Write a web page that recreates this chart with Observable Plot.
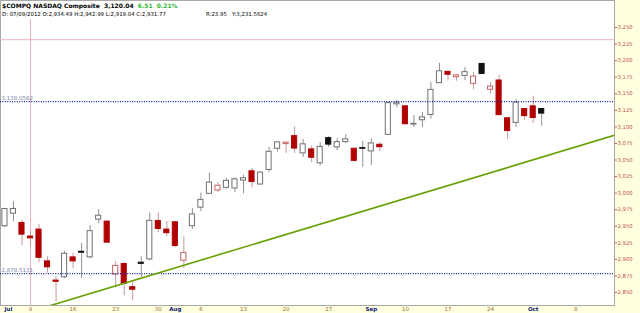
<!DOCTYPE html>
<html><head><meta charset="utf-8">
<script src="https://cdn.jsdelivr.net/npm/d3@7"></script>
<script src="https://cdn.jsdelivr.net/npm/@observablehq/plot@0.6"></script>
<style>
body{margin:0;background:#ffffe0;}
#wrap{position:relative;width:640px;height:313px;font-family:"DejaVu Sans",Verdana,sans-serif;}
.hdr{position:absolute;white-space:nowrap;line-height:1;color:#000;}
svg{display:block;}
</style></head><body><div id="wrap"></div>
<script>
const symbol = "$COMPQ";
const indexName = "NASDAQ Composite";
const lastClose = 3120.04, change = 6.51, changePct = 0.21;

const dates = [
"2012-07-02","2012-07-03","2012-07-05","2012-07-06","2012-07-09","2012-07-10","2012-07-11","2012-07-12","2012-07-13",
"2012-07-16","2012-07-17","2012-07-18","2012-07-19","2012-07-20","2012-07-23","2012-07-24","2012-07-25","2012-07-26","2012-07-27",
"2012-07-30","2012-07-31","2012-08-01","2012-08-02","2012-08-03","2012-08-06","2012-08-07","2012-08-08","2012-08-09","2012-08-10",
"2012-08-13","2012-08-14","2012-08-15","2012-08-16","2012-08-17","2012-08-20","2012-08-21","2012-08-22","2012-08-23","2012-08-24",
"2012-08-27","2012-08-28","2012-08-29","2012-08-30","2012-08-31","2012-09-04","2012-09-05","2012-09-06","2012-09-07",
"2012-09-10","2012-09-11","2012-09-12","2012-09-13","2012-09-14","2012-09-17","2012-09-18","2012-09-19","2012-09-20","2012-09-21",
"2012-09-24","2012-09-25","2012-09-26","2012-09-27","2012-09-28","2012-10-01","2012-10-02"];
const opens = [
2938,2950,2969,2955,2934.49,2945,2897,2868,2873,
2903,2911.5,2903,2960,2957,2877,2893,2858,2895,2900,
2958,2945,2956,2898,2950,2978,2999,3004,3008,3007,
3019,3033,3013,3035,3067,3074,3086,3060,3066,3045,
3083,3069,3077,3067,3068,3063,3073,3088,3134,
3131,3103.5,3110,3118,3166,3183,3175,3177,3165,3195,
3156,3170,3113,3106,3127,3131,3127];
const highs = [
2953,2977,2987,2959,2942.99,2953,2904,2874,2912,
2909,2924,2951,2975,2958,2897,2895,2868,2904,2970,
2970,2957,2957,2934,2977,3000,3030,3016,3022,3023,
3027,3037,3032,3069,3077,3077,3100,3081,3071,3076,
3085,3082,3088,3067,3078,3082,3076,3137,3140,
3132,3117,3122,3167,3196,3184,3179,3190,3182,3196,
3167,3178,3113,3141,3127,3146,3128];
const lows = [
2926,2948,2957,2921,2919.04,2895,2879,2836,2871,
2886,2871,2901,2954,2924,2857,2845,2838,2873,2898,
2940,2934,2918,2886,2945,2972,2999,3001,3006,3001,
2999,3008,3012,3031,3062,3060,3060,3054,3046,3041,
3069,3064,3075,3047,3039,3042,3063,3087,3129,
3103,3099,3099,3112,3166,3169,3169,3170,3156,3179,
3150,3117,3081,3099,3110,3105,3101];
const closes = [
2951.23,2976.08,2976.12,2937.33,2931.77,2902.33,2887.98,2866.19,2908.47,
2896.94,2910.04,2942.60,2965.90,2925.30,2890.15,2862.99,2854.24,2893.25,2958.09,
2945.84,2939.52,2920.21,2909.77,2967.90,2989.91,3015.86,3011.25,3018.64,3020.86,
3022.52,3016.98,3030.93,3062.39,3076.59,3076.21,3067.26,3073.67,3053.40,3069.79,
3073.19,3077.14,3081.19,3048.71,3066.96,3075.06,3069.27,3135.81,3136.42,
3104.02,3104.53,3114.31,3155.83,3183.95,3178.67,3177.80,3182.62,3175.96,3179.96,
3160.78,3117.73,3093.70,3136.60,3116.23,3113.53,3120.04];

const yTicks = [2850,2875,2900,2925,2950,2975,3000,3025,3050,3075,3100,3125,3150,3175,3200,3225,3250];
const xTickDates = ["2012-07-02","2012-07-09","2012-07-16","2012-07-23","2012-07-30","2012-08-01","2012-08-06","2012-08-13","2012-08-20","2012-08-27","2012-09-04","2012-09-10","2012-09-17","2012-09-24","2012-10-01","2012-10-08"];
const xTickLabels = ["Jul","9","16","23","30","Aug","6","13","20","27","Sep","10","17","24","Oct","8"];
const xTickIsMonth = [true,false,false,false,false,true,false,false,false,false,true,false,false,false,true,false];

const levelValues = [3138.0562, 2878.5131];
const crossDate = "2012-07-09";
const crossLevel = 3231.5624;
const trendDates = ["2012-07-11","2012-10-16"];
const trendValues = [2829, 3093];

// trading-day index, with Jul 9 = 0
const i0 = dates.indexOf(crossDate);
function tIndex(ds){
  const k = dates.indexOf(ds);
  if (k >= 0) return k - i0;
  const last = new Date(dates[dates.length-1]+"T00:00:00Z");
  const d = new Date(ds+"T00:00:00Z");
  let n = 0, cur = new Date(last);
  while (cur < d){ cur.setUTCDate(cur.getUTCDate()+1); const w = cur.getUTCDay(); if (w!==0 && w!==6) n++; }
  return dates.length-1-i0+n;
}

const candles = dates.map((d,k)=>{
  const prev = k>0 ? closes[k-1] : opens[k];
  const down = closes[k] < prev;
  const hollow = closes[k] > opens[k];
  return {x:k-i0, o:opens[k], h:highs[k], l:lows[k], c:closes[k], down, hollow};
});
const RED = "#b00000";
const bodyFill = d => d.hollow ? "white" : (d.down ? RED : "#111");
const bodyStroke = d => d.hollow ? (d.down ? "#c86060" : "#707070") : (d.down ? RED : "#111");
const wickStroke = d => d.down ? "#c89898" : "#909090";

const xmin = -3.521, xmax = 68.545;
const yLo = 2830.4, yHi = 3290.75;

const xTicks = xTickDates.map((d,k)=>{
  let x = tIndex(d), clamped = false;
  if (x < xmin){ x = xmin; clamped = true; }
  return {x, label:xTickLabels[k], month:xTickIsMonth[k], clamped};
});
const trend = trendDates.map((d,k)=>({x:tIndex(d), y:trendValues[k]}));
const fmt = d3.format(",.2f");
const monthStyle = {frameAnchor:"bottom", dy:4, lineAnchor:"middle", fontSize:5.5, fontWeight:"bold", fill:"#0a1a78"};

const plot = Plot.plot({
  width:640, height:313,
  marginTop:0, marginLeft:0, marginRight:26, marginBottom:8,
  style:{background:"transparent", fontFamily:"'DejaVu Sans',Verdana,sans-serif", overflow:"visible"},
  x:{domain:[xmin,xmax], axis:null},
  y:{domain:[yLo,yHi], axis:null},
  marks:[
    Plot.frame({fill:"white", stroke:"#a8a8a8"}),
    Plot.ruleY([crossLevel], {stroke:"#f0b0b8", strokeWidth:1}),
    Plot.ruleX([tIndex(crossDate)], {stroke:"#f0b0b8", strokeWidth:1, insetTop:19}),
    Plot.ruleX(candles, {x:"x", y1:"l", y2:"h", stroke:wickStroke, strokeWidth:1, clip:true}),
    Plot.rect(candles, {x1:d=>d.x-0.3, x2:d=>d.x+0.3, y1:d=>Math.min(d.o,d.c), y2:d=>Math.max(d.o,d.c), fill:bodyFill, stroke:bodyStroke, strokeWidth:1, clip:true}),
    Plot.ruleY(levelValues, {stroke:"#1020a0", strokeWidth:1.2, strokeDasharray:"1,1.4"}),
    Plot.text(levelValues, {y:d=>d, text:d=>d3.format(",.4f")(d), frameAnchor:"left", textAnchor:"start", dx:1, dy:-3.5, fontSize:5.5, fill:"#7585aa"}),
    Plot.line(trend, {x:"x", y:"y", stroke:"#66a000", strokeWidth:1.6, clip:true}),
    Plot.axisY({anchor:"right", ticks:yTicks, tickFormat:d3.format(","), tickSize:2, tickPadding:1, fontSize:5.3, color:"#c05050"}),
    Plot.text(xTicks.filter(d=>d.month && d.clamped), {x:"x", text:"label", textAnchor:"start", dx:4, ...monthStyle}),
    Plot.text(xTicks.filter(d=>d.month && !d.clamped), {x:"x", text:"label", ...monthStyle}),
    Plot.text(xTicks.filter(d=>!d.month), {x:"x", text:"label", frameAnchor:"bottom", dy:4, lineAnchor:"middle", fontSize:5.5, fill:"#9a6a3a"})
  ]
});
const wrap = document.getElementById("wrap");
wrap.appendChild(plot);

const ci = dates.indexOf(crossDate);
const [m,dd,yy] = [crossDate.slice(5,7), crossDate.slice(8,10), crossDate.slice(0,4)];
const h1 = document.createElement("div");
h1.className = "hdr";
h1.style.cssText = "left:2px;top:3px;font-size:6px;font-weight:bold;";
h1.innerHTML = `${symbol} ${indexName}&nbsp;&nbsp;${fmt(lastClose)}&nbsp;&nbsp;<span style="color:#2eb82e">${fmt(change)}&nbsp;&nbsp;${changePct.toFixed(2)}%</span>`;
wrap.appendChild(h1);
const h2 = document.createElement("div");
h2.className = "hdr";
h2.style.cssText = "left:2px;top:11.5px;font-size:5.4px;";
h2.textContent = `D: ${m}/${dd}/${yy} O:${fmt(opens[ci])} H:${fmt(highs[ci])} L:${fmt(lows[ci])} C:${fmt(closes[ci])}`;
wrap.appendChild(h2);
const h3 = document.createElement("div");
h3.className = "hdr";
h3.style.cssText = "left:206px;top:11.5px;font-size:5.4px;";
h3.innerHTML = `R:${fmt(highs[ci]-lows[ci])}&nbsp;&nbsp;&nbsp;Y:${d3.format(",.4f")(crossLevel)}`;
wrap.appendChild(h3);
</script></body></html>
